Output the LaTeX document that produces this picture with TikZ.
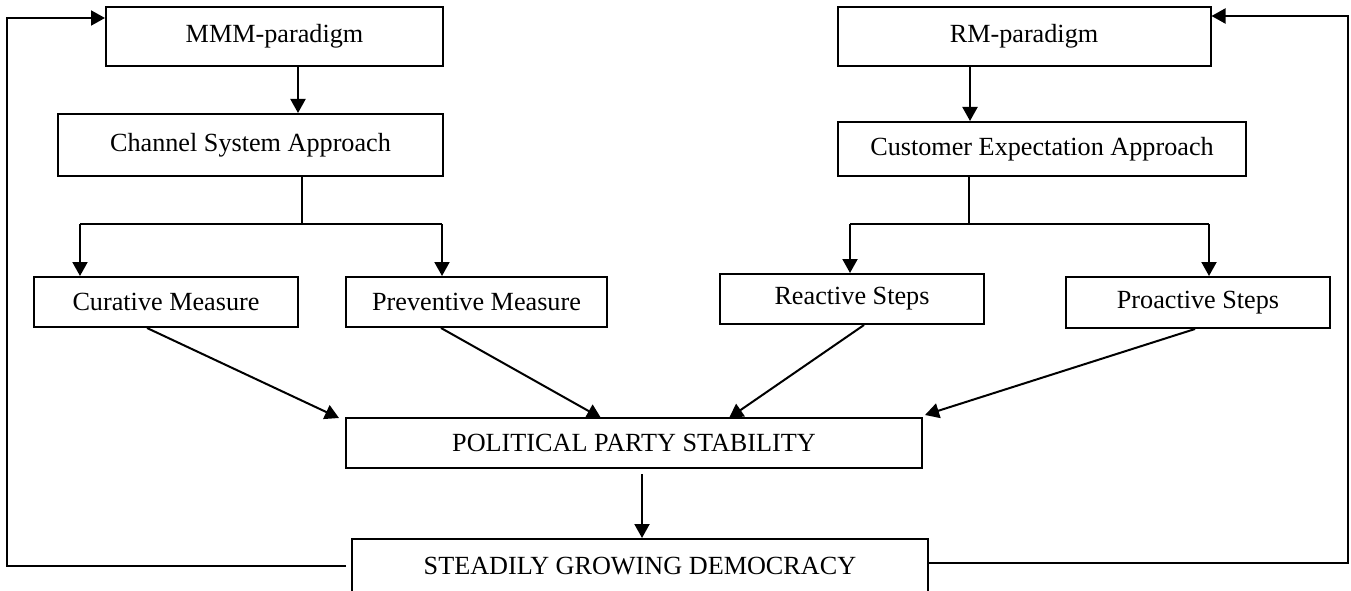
\documentclass[tikz,border=0pt]{standalone}
\usepackage{fontspec}
\setmainfont{Liberation Serif}
\usetikzlibrary{arrows.meta}
\begin{document}
\begin{tikzpicture}[x=1pt,y=-1pt,
  box/.style={draw, line width=2pt, inner sep=0pt, font=\fontsize{26.2}{30}\selectfont},
  arr/.style={line width=2pt, -{Triangle[length=14pt,width=15pt]}},
  ln/.style={line width=2pt}]
\useasboundingbox (0,0) rectangle (1351,591);
% boxes
\node[box, minimum width=337pt, minimum height=59pt] (mmm) at (274.5,36.5) {MMM-paradigm};
\node[box, minimum width=385pt, minimum height=62pt] (csa) at (250.5,145) {Channel System Approach};
\node[box, minimum width=264pt, minimum height=50pt] (cur) at (166,302) {Curative Measure};
\node[box, minimum width=261pt, minimum height=50pt] (prev) at (476.5,302) {Preventive Measure};
\node[box, minimum width=373pt, minimum height=59pt] (rm) at (1024,36.5) {RM-paradigm};
\node[box, minimum width=408pt, minimum height=54pt] (cea) at (1042,149) {Customer Expectation Approach};
\node[box, minimum width=264pt, minimum height=50pt] (rea) at (852,299) {Reactive Steps};
\node[box, minimum width=264pt, minimum height=51pt] (pro) at (1198,302.5) {Proactive Steps};
\node[box, minimum width=576pt, minimum height=50.5pt] (pps) at (634,443) {POLITICAL PARTY STABILITY};
\node[box, minimum width=576pt, minimum height=54pt] (sgd) at (640,566) {STEADILY GROWING DEMOCRACY};
% helper coordinates
\coordinate (xm) at (298,0);
\coordinate (bl) at (302,224);
\coordinate (a1) at (80,224);
\coordinate (a2) at (442,224);
\coordinate (xr) at (970,0);
\coordinate (br) at (969,224);
\coordinate (b1) at (850,224);
\coordinate (b2) at (1209,224);
\coordinate (s1) at (147,0);
\coordinate (s2) at (441,0);
\coordinate (s3) at (864,0);
\coordinate (s4) at (1195,0);
\coordinate (t1) at (339,418);
\coordinate (t2) at (601,418);
\coordinate (t3) at (729,418);
\coordinate (t4) at (925,415);
\coordinate (xp) at (642,0);
\coordinate (lt) at (7,18);
\coordinate (rb) at (1348,563);
\coordinate (rt) at (1348,16);
% left branch
\draw[arr] (mmm.south -| xm) -- (csa.north -| xm);
\draw[ln] (csa.south -| bl) -- (bl);
\draw[ln] (a1) -- (a2);
\draw[arr] (a1) -- (cur.north -| a1);
\draw[arr] (a2) -- (prev.north -| a2);
% right branch
\draw[arr] (rm.south -| xr) -- (cea.north -| xr);
\draw[ln] (cea.south -| br) -- (br);
\draw[ln] (b1) -- (b2);
\draw[arr] (b1) -- (rea.north -| b1);
\draw[arr] (b2) -- (pro.north -| b2);
% diagonals
\draw[arr] (cur.south -| s1) -- (t1);
\draw[arr] (prev.south -| s2) -- (t2);
\draw[arr] (rea.south -| s3) -- (t3);
\draw[arr] (pro.south -| s4) -- (t4);
% down
\draw[arr, shorten <=5pt] (pps.south -| xp) -- (sgd.north -| xp);
% feedback loops
\draw[arr, shorten <=5pt] (sgd.west) -| (lt) -- (mmm.west |- lt);
\draw[arr] (sgd.east |- rb) -- (rb) -- (rt) -- (rm.east |- rt);
\end{tikzpicture}
\end{document}
